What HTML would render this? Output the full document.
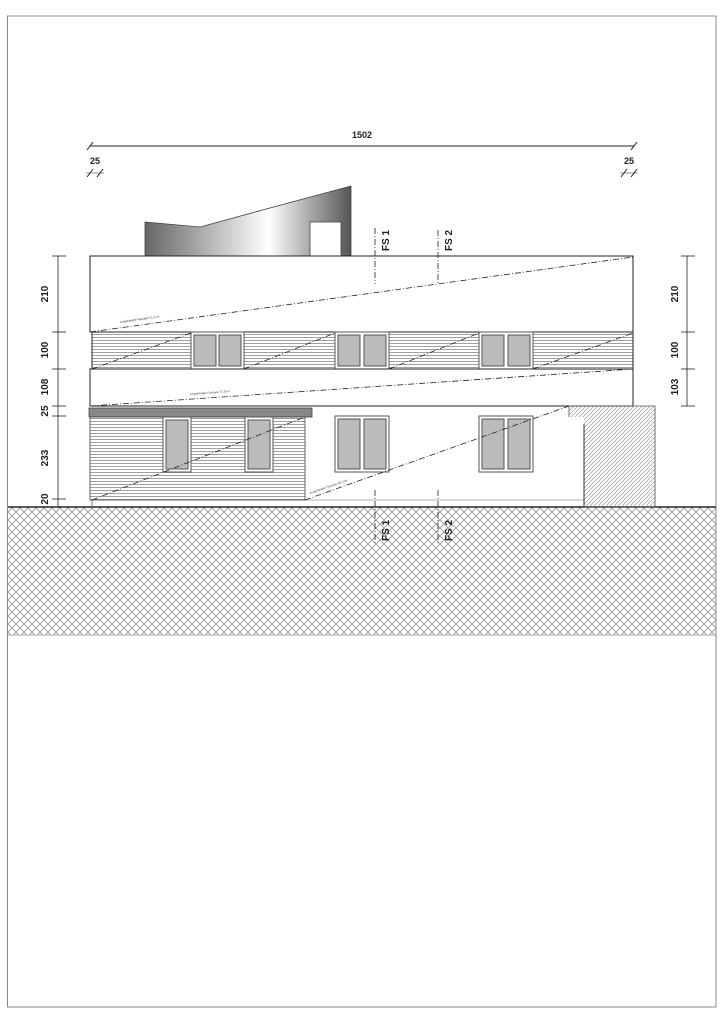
<!DOCTYPE html>
<html><head><meta charset="utf-8"><style>html,body{margin:0;padding:0;background:#fff}svg{display:block}text{font-family:"Liberation Sans",sans-serif}</style></head><body>
<svg width="724" height="1024" viewBox="0 0 724 1024" xmlns="http://www.w3.org/2000/svg">
<defs>
<linearGradient id="g" x1="0" x2="1" y1="0" y2="0">
<stop offset="0" stop-color="#666"/><stop offset="0.6" stop-color="#fff"/><stop offset="1" stop-color="#555"/></linearGradient>
<pattern id="cross" width="8" height="8" patternUnits="userSpaceOnUse">
<path d="M0 0L8 8M8 0L0 8" stroke="#999" stroke-width="0.9"/></pattern>
<pattern id="hl" width="4" height="3" patternUnits="userSpaceOnUse">
<line x1="0" y1="1.5" x2="4" y2="1.5" stroke="#888" stroke-width="0.8"/></pattern>
<pattern id="diag" width="4" height="4" patternUnits="userSpaceOnUse">
<path d="M0 4L4 0M-1 1L1 -1M3 5L5 3" stroke="#999" stroke-width="0.7"/></pattern>
</defs>
<rect x="7.5" y="16" width="708.5" height="991" fill="none" stroke="#888" stroke-width="1"/>
<rect x="8" y="507" width="708" height="128" fill="url(#cross)"/>
<line x1="8" y1="507" x2="716" y2="507" stroke="#222" stroke-width="1.5"/>
<line x1="8" y1="635" x2="716" y2="635" stroke="#aaa" stroke-width="1"/>
<path d="M145 222L200 227L351 186L351 256L145 256Z" fill="url(#g)" stroke="#444" stroke-width="0.8"/>
<rect x="310" y="222" width="31" height="34" fill="#fff" stroke="#444" stroke-width="0.8"/>
<rect x="90" y="256" width="543" height="76" fill="#fff" stroke="#222" stroke-width="1"/>
<rect x="92" y="332" width="541" height="37" fill="url(#hl)" stroke="#222" stroke-width="1"/>
<g fill="#bbb" stroke="#555" stroke-width="1">
<rect x="191" y="332" width="53" height="37" fill="#fff"/><rect x="194" y="335" width="22" height="31"/><rect x="219" y="335" width="22" height="31"/>
<rect x="335" y="332" width="54" height="37" fill="#fff"/><rect x="338" y="335" width="22" height="31"/><rect x="364" y="335" width="22" height="31"/>
<rect x="479" y="332" width="54" height="37" fill="#fff"/><rect x="482" y="335" width="22" height="31"/><rect x="508" y="335" width="22" height="31"/>
</g>
<rect x="90" y="369" width="543" height="37" fill="#fff" stroke="#222" stroke-width="1"/>
<path d="M569 406L655 406L655 507L584 507L584 424L569 424Z" fill="url(#diag)" stroke="#555" stroke-width="0.8"/>
<rect x="305" y="417" width="279" height="83" fill="#fff"/>
<line x1="305" y1="500" x2="584" y2="500" stroke="#999" stroke-width="0.8"/>
<line x1="584" y1="424" x2="584" y2="507" stroke="#333" stroke-width="1"/>
<rect x="89" y="408" width="223" height="9" fill="#888" stroke="#444" stroke-width="0.8"/>
<rect x="90" y="417" width="215" height="83" fill="url(#hl)" stroke="#444" stroke-width="0.8"/>
<line x1="92" y1="500" x2="92" y2="507" stroke="#777"/>
<g fill="#bbb" stroke="#555" stroke-width="1">
<rect x="163" y="417" width="28" height="55" fill="#fff"/><rect x="166" y="420" width="22" height="49"/>
<rect x="245" y="417" width="28" height="55" fill="#fff"/><rect x="248" y="420" width="22" height="49"/>
<rect x="335" y="416" width="54" height="56" fill="#fff"/><rect x="338" y="419" width="22" height="50"/><rect x="364" y="419" width="22" height="50"/>
<rect x="479" y="416" width="54" height="56" fill="#fff"/><rect x="482" y="419" width="22" height="50"/><rect x="508" y="419" width="22" height="50"/>
</g>
<g stroke="#222" stroke-width="0.8" stroke-dasharray="6 2 1 2" fill="none">
<line x1="90" y1="332" x2="633" y2="257"/>
<line x1="92" y1="369" x2="191" y2="333"/>
<line x1="244" y1="369" x2="335" y2="333"/>
<line x1="389" y1="369" x2="479" y2="333"/>
<line x1="533" y1="369" x2="633" y2="333"/>
<line x1="90" y1="406" x2="633" y2="369"/>
<line x1="92" y1="500" x2="305" y2="417"/>
<line x1="305" y1="500" x2="569" y2="406"/>
<line x1="375" y1="228" x2="375" y2="284"/>
<line x1="438" y1="230" x2="438" y2="284"/>
<line x1="375" y1="490" x2="375" y2="545"/>
<line x1="438" y1="490" x2="438" y2="545"/>
</g>
<g font-size="3" fill="#333">
<text x="120" y="323" transform="rotate(-8 120 323)">vorgehängte Fassade 51,5 m²</text>
<text x="190" y="395" transform="rotate(-4 190 395)">vorgehängte Fassade 57,5 m²</text>
<text x="310" y="494" transform="rotate(-19 310 494)">vorgehängte Fassade 40,0 m²</text>
</g>
<g font-size="10" font-weight="bold" fill="#222">
<text transform="translate(389 251) rotate(-90)">FS 1</text>
<text transform="translate(452 251) rotate(-90)">FS 2</text>
<text transform="translate(389 541) rotate(-90)">FS 1</text>
<text transform="translate(452 541) rotate(-90)">FS 2</text>
</g>
<g stroke="#222" stroke-width="1">
<line x1="90" y1="146" x2="634" y2="146"/>
<line x1="87" y1="150" x2="93" y2="142"/><line x1="631" y1="150" x2="637" y2="142"/>
<line x1="87" y1="177" x2="93" y2="169"/><line x1="97" y1="177" x2="103" y2="169"/>
<line x1="621" y1="177" x2="627" y2="169"/><line x1="631" y1="177" x2="637" y2="169"/>
<line x1="86" y1="173" x2="104" y2="173" stroke-width="0.6"/><line x1="620" y1="173" x2="638" y2="173" stroke-width="0.6"/>
<line x1="58" y1="256" x2="58" y2="507" stroke-width="0.8"/>
<line x1="687" y1="256" x2="687" y2="406" stroke-width="0.8"/>
<g stroke-width="0.8">
<line x1="52" y1="256" x2="66" y2="256"/><line x1="52" y1="332" x2="66" y2="332"/><line x1="52" y1="369" x2="66" y2="369"/><line x1="52" y1="406" x2="66" y2="406"/><line x1="52" y1="416" x2="66" y2="416"/><line x1="52" y1="499" x2="66" y2="499"/><line x1="52" y1="507" x2="66" y2="507"/>
<line x1="681" y1="256" x2="695" y2="256"/><line x1="681" y1="332" x2="695" y2="332"/><line x1="681" y1="369" x2="695" y2="369"/><line x1="681" y1="406" x2="695" y2="406"/>
</g>
</g>
<g font-size="10" fill="#222" font-weight="bold">
<text x="362" y="138" text-anchor="middle" font-size="9">1502</text>
<text x="95" y="164" text-anchor="middle" font-size="9">25</text>
<text x="629" y="164" text-anchor="middle" font-size="9">25</text>
<text transform="translate(48 294) rotate(-90)" text-anchor="middle">210</text>
<text transform="translate(48 350) rotate(-90)" text-anchor="middle">100</text>
<text transform="translate(48 387) rotate(-90)" text-anchor="middle">108</text>
<text transform="translate(48 411) rotate(-90)" text-anchor="middle">25</text>
<text transform="translate(48 458) rotate(-90)" text-anchor="middle">233</text>
<text transform="translate(48 499) rotate(-90)" text-anchor="middle">20</text>
<text transform="translate(678 294) rotate(-90)" text-anchor="middle">210</text>
<text transform="translate(678 350) rotate(-90)" text-anchor="middle">100</text>
<text transform="translate(678 387) rotate(-90)" text-anchor="middle">103</text>
</g>
</svg>
</body></html>
